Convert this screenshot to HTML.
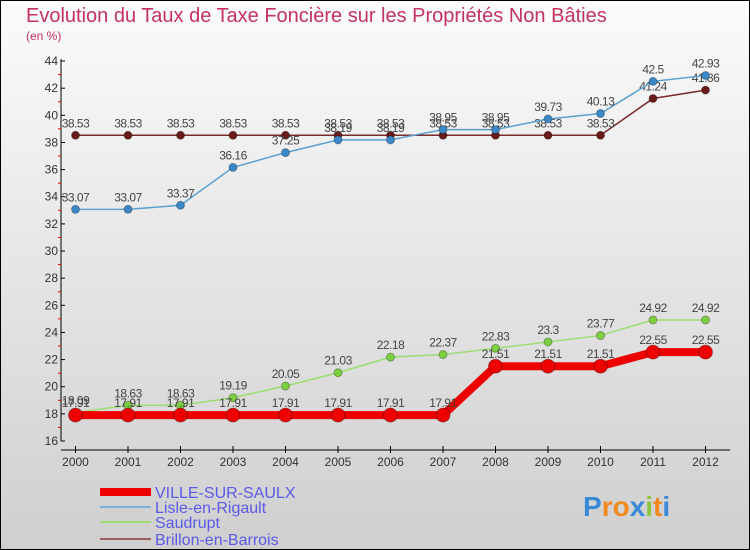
<!DOCTYPE html>
<html><head><meta charset="utf-8"><style>
body{margin:0}
svg{display:block;font-family:"Liberation Sans",sans-serif}
</style></head><body>
<svg width="750" height="550">
<defs><linearGradient id="bg" x1="0" y1="0" x2="0" y2="1"><stop offset="0" stop-color="#fbfbfb"/><stop offset="1" stop-color="#cfcfcf"/></linearGradient></defs>
<rect x="0.5" y="0.5" width="749" height="549" fill="url(#bg)" stroke="#000"/>
<text x="26" y="22" font-size="20" fill="#c4325e">Evolution du Taux de Taxe Foncière sur les Propriétés Non Bâties</text>
<text x="26" y="40" font-size="12" fill="#c4325e">(en %)</text>
<g id="axes"></g><g id="series"></g><g id="legend"></g>
</svg>
<script>
const years=[2000,2001,2002,2003,2004,2005,2006,2007,2008,2009,2010,2011,2012];
const yTicks=[16,18,20,22,24,26,28,30,32,34,36,38,40,42,44];
const ville=[17.91,17.91,17.91,17.91,17.91,17.91,17.91,17.91,21.51,21.51,21.51,22.55,22.55];
const lisle=[33.07,33.07,33.37,36.16,37.25,38.19,38.19,38.95,38.95,39.73,40.13,42.5,42.93];
const saud=[18.09,18.63,18.63,19.19,20.05,21.03,22.18,22.37,22.83,23.3,23.77,24.92,24.92];
const brillon=[38.53,38.53,38.53,38.53,38.53,38.53,38.53,38.53,38.53,38.53,38.53,41.24,41.86];
const names=["VILLE-SUR-SAULX","Lisle-en-Rigault","Saudrupt","Brillon-en-Barrois"];
const NS="http://www.w3.org/2000/svg";
const X=i=>75.5+i*52.5, Y=v=>441-(v-16)*13.57;
function mk(t,a,p){const e=document.createElementNS(NS,t);for(const k in a)e.setAttribute(k,a[k]);p.appendChild(e);return e;}
const ax=document.getElementById('axes');
let e=mk('line',{x1:61,y1:Y(44)-2,x2:61,y2:Y(16),stroke:'#000'},ax);


yTicks.forEach(v=>{mk('line',{x1:61,x2:65,y1:Y(v),y2:Y(v),stroke:'#000'},ax);
 if(v<44)mk('line',{x1:58,x2:61,y1:Y(v+1),y2:Y(v+1),stroke:'#e00'},ax);
 const t=mk('text',{x:58,y:Y(v)+4,'text-anchor':'end','font-size':12,fill:'#333'},ax);t.textContent=v;
 
 });
e=mk('line',{x1:61,y1:450,x2:730,y2:450,stroke:'#000'},ax);


years.forEach((y,i)=>{mk('line',{x1:X(i),x2:X(i),y1:446,y2:453,stroke:'#000'},ax);
 const t=mk('text',{x:X(i),y:466,'text-anchor':'middle','font-size':12,fill:'#333'},ax);t.textContent=y;
 
 });
const sg=document.getElementById('series');
const defs=[[brillon,'#7a2a2a','#6a1a1a',1.5,4,'brillon'],[lisle,'#5aa0d0','#3a88c8',1.5,4,'lisle'],[saud,'#9ade70','#7cd040',1.5,4,'saudrupt'],[ville,'#ee0000','#ee0000',8,7,'ville']];
defs.forEach(([d,c,fc,w,r,n])=>{const g=mk('g',{},sg);
 
 
 mk('polyline',{points:d.map((v,i)=>X(i)+','+Y(v)).join(' '),fill:'none',stroke:c,'stroke-width':w},g);
 d.forEach((v,i)=>{const p=mk('circle',{cx:X(i),cy:Y(v),r:r,fill:fc,stroke:'rgba(0,0,0,0.3)'},g);
  
  
  const t=mk('text',{x:X(i),y:Y(v)-8,'text-anchor':'middle','font-size':12,fill:'#444','letter-spacing':'-0.5'},g);t.textContent=v;
  
  });});
const lg=document.getElementById('legend');
const lc=[['#ee0000',8],['#7ab0d8',2],['#9ade70',2],['#9a6060',2]];
names.forEach((n,i)=>{const y=[492,507,522,539][i];const g=mk('g',{},lg);
 
 
 mk('line',{x1:100,x2:151,y1:y,y2:y,stroke:lc[i][0],'stroke-width':lc[i][1]},g);
 const t=mk('text',{x:155,y:y+6,'font-size':16,fill:'#5a5ae8'},g);t.textContent=n;});
const pt=mk('text',{x:583,y:516,'font-size':28,'font-weight':'bold',fill:'#3a8ad8'},lg);


const letters=[['P','#3a8ad8'],['ro','#f08a20'],['x','#3a8ad8'],['i','#8cc63f'],['t','#f08a20'],['i','#3a8ad8']];
letters.forEach(([s,c])=>{const ts=mk('tspan',{fill:c},pt);ts.textContent=s;});
</script>
</body></html>
